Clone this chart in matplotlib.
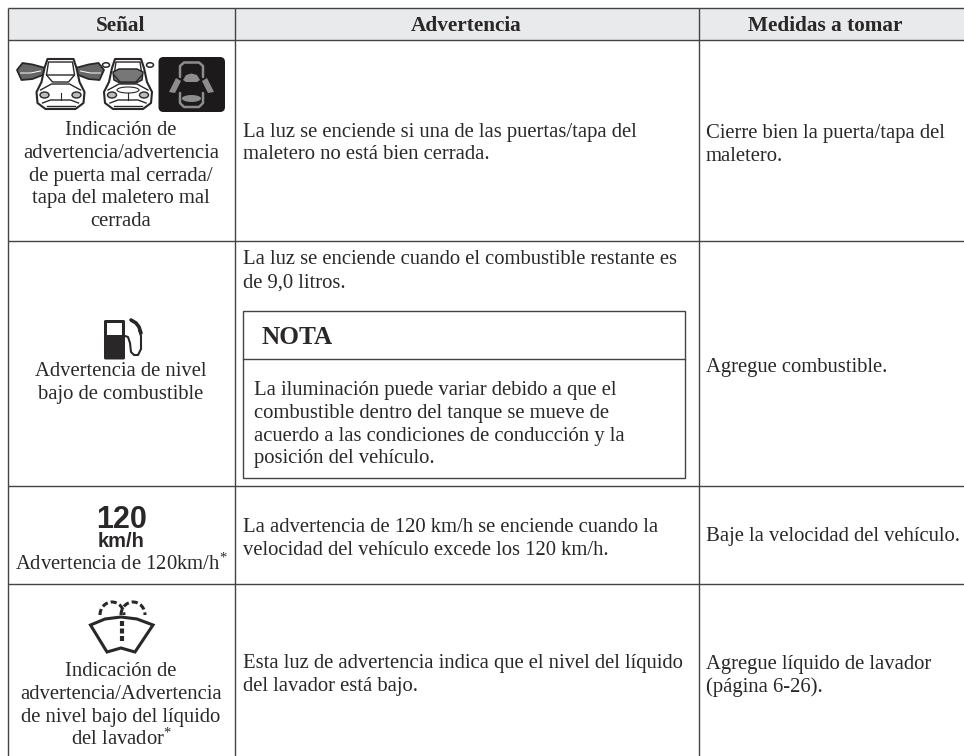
import matplotlib
matplotlib.use("Agg")

import matplotlib.pyplot as plt
from matplotlib.patches import Rectangle, FancyBboxPatch, Arc, Polygon, Ellipse

# Table content
headers = ["Señal", "Advertencia", "Medidas a tomar"]
col_senal = [
    ["Indicación de", "advertencia/advertencia", "de puerta mal cerrada/", "tapa del maletero mal", "cerrada"],
    ["Advertencia de nivel", "bajo de combustible"],
    ["Advertencia de 120km/h$^{*}$"],
    ["Indicación de", "advertencia/Advertencia", "de nivel bajo del líquido", "del lavador$^{*}$"],
]
col_advertencia = [
    ["La luz se enciende si una de las puertas/tapa del", "maletero no está bien cerrada."],
    ["La luz se enciende cuando el combustible restante es", "de 9,0 litros."],
    ["La advertencia de 120 km/h se enciende cuando la", "velocidad del vehículo excede los 120 km/h."],
    ["Esta luz de advertencia indica que el nivel del líquido", "del lavador está bajo."],
]
col_medidas = [
    ["Cierre bien la puerta/tapa del", "maletero."],
    ["Agregue combustible."],
    ["Baje la velocidad del vehículo."],
    ["Agregue líquido de lavador", "(página 6-26)."],
]
nota_title = "NOTA"
nota_lines = [
    "La iluminación puede variar debido a que el",
    "combustible dentro del tanque se mueve de",
    "acuerdo a las condiciones de conducción y la",
    "posición del vehículo.",
]

# Layout in image pixels
col_x = [8, 234.5, 698.5]
row_y = [8, 40, 240.5, 486, 584]
right = 964
bottom = 756
line_h = 22.8
fs = 14.9
ink = "#2a2728"
line_col = "#444444"

plt.rcParams["font.family"] = ["Liberation Serif", "DejaVu Serif"]
plt.rcParams["mathtext.fontset"] = "custom"
plt.rcParams["mathtext.rm"] = "Liberation Serif"
plt.rcParams["mathtext.default"] = "regular"

fig = plt.figure(figsize=(9.64, 7.56), dpi=100)
ax = fig.add_axes([0, 0, 1, 1])
ax.set_xlim(0, 964)
ax.set_ylim(756, 0)
ax.axis("off")

# Header band and grid (table runs off the right and bottom edges)
ax.add_patch(Rectangle((col_x[0], row_y[0]), right - col_x[0], row_y[1] - row_y[0], fc="#e9eaeb", ec="none"))
for x in col_x:
    ax.plot([x, x], [row_y[0], bottom], color=line_col, lw=1.0, solid_capstyle="butt")
for y in row_y:
    ax.plot([col_x[0], right], [y, y], color=line_col, lw=1.0, solid_capstyle="butt")


def put_lines(lines, x, y0, ha="left", step=line_h):
    for i, s in enumerate(lines):
        ax.text(x, y0 + i * step, s, fontsize=fs, color=ink, ha=ha, va="baseline")


# Header text
centers = [121, 466, 825]
for c, h in zip(centers, headers):
    ax.text(c, 31, h, fontsize=fs + 0.4, fontweight="bold", color=ink, ha="center", va="baseline")

# First column captions
caption_y = [135, 376, 570, 676]
for lines, y in zip(col_senal, caption_y):
    put_lines(lines, centers[0], y, ha="center")

# Middle and right columns
adv_y = [137, 264, 532, 668]
adv_step = [22.3, 24, 22.8, 23.5]
for lines, y, st in zip(col_advertencia, adv_y, adv_step):
    put_lines(lines, 243, y, step=st)
med_y = [138, 372, 541, 669]
for lines, y in zip(col_medidas, med_y):
    put_lines(lines, 705.5, y)

# NOTA box
ax.add_patch(Rectangle((243, 311), 442, 167, fc="none", ec=line_col, lw=1.0))
ax.plot([243, 685], [359, 359], color=line_col, lw=1.0)
ax.text(261.5, 344, nota_title, fontsize=18.2, fontweight="bold", color=ink, va="baseline")
put_lines(nota_lines, 254, 395)


# Icons
def car(cx, open_doors):
    if open_doors:
        for sign in (-1, 1):
            ax.add_patch(Polygon([(cx + sign * 15, 68), (cx + sign * 28, 64.5), (cx + sign * 38, 63),
                                  (cx + sign * 43.5, 70), (cx + sign * 39, 80), (cx + sign * 28, 79),
                                  (cx + sign * 15, 74)],
                                 fc="#666666", ec=ink, lw=1.3, joinstyle="round"))
            ax.plot([cx + sign * 20, cx + sign * 30, cx + sign * 40], [71, 73, 73], color="white", lw=0.7)
    else:
        for sign in (-1, 1):
            ax.add_patch(Ellipse((cx + sign * 22, 65), 7, 4.5, fc="white", ec=ink, lw=1.1))
    # body outline seen from the rear
    ax.add_patch(Polygon([(cx - 23, 103), (cx - 24, 92), (cx - 19, 82), (cx - 16, 68), (cx - 13, 59),
                          (cx + 13, 59), (cx + 16, 68), (cx + 19, 82), (cx + 24, 92), (cx + 23, 103),
                          (cx + 15, 109), (cx - 15, 109)], fc="white", ec=ink, lw=1.5, joinstyle="round"))
    ax.add_patch(Polygon([(cx - 12, 62), (cx + 12, 62), (cx + 14, 75), (cx - 14, 75)], fc="white", ec=ink, lw=1.0))
    ax.plot([cx - 20, cx - 9, cx + 9, cx + 20], [90, 84, 84, 90], color=ink, lw=1.0)
    ax.plot([cx - 14, cx - 8, cx + 8, cx + 14], [75, 82, 82, 75], color=ink, lw=1.0)
    ax.plot([cx - 18, cx - 10, cx + 10, cx + 18], [103, 100, 100, 103], color=ink, lw=1.0)
    ax.plot([cx - 14, cx + 14], [106, 106], color=ink, lw=1.0)
    ax.plot([cx, cx], [93, 100], color=ink, lw=0.8)
    for sign in (-1, 1):
        ax.add_patch(Ellipse((cx + sign * 16, 95), 9, 6, fc="#bbbbbb", ec=ink, lw=1.0))
    if not open_doors:
        ax.add_patch(Polygon([(cx - 15, 72), (cx - 9, 69), (cx + 9, 69), (cx + 15, 72), (cx + 14, 80),
                              (cx + 8, 83), (cx - 8, 83), (cx - 14, 80)], fc="#777777", ec=ink, lw=1.1))
        ax.add_patch(Ellipse((cx, 90), 22, 6, fc="white", ec=ink, lw=0.8))


car(60.5, True)
car(128, False)

# Dark door warning lamp
ax.add_patch(FancyBboxPatch((158.5, 57), 66.5, 55, boxstyle="round,pad=0,rounding_size=5", fc="#1c1a1b", ec="none"))
lamp = "#8d8d8d"
ax.plot([180, 180, 184, 199, 203, 203], [77, 66, 62.5, 62.5, 66, 77], color=lamp, lw=1.8, solid_capstyle="round")
ax.add_patch(Polygon([(183, 80), (186, 75), (191.5, 73.5), (197, 75), (200, 80), (197, 82), (186, 82)], fc=lamp, ec="none"))
ax.add_patch(Polygon([(169, 92), (176, 78), (181, 81), (175, 93)], fc=lamp, ec="none"))
ax.add_patch(Polygon([(214, 92), (207, 78), (202, 81), (208, 93)], fc=lamp, ec="none"))
ax.plot([180, 180, 184, 199, 203, 203], [93, 103, 107, 107, 103, 93], color=lamp, lw=1.8, solid_capstyle="round")
ax.add_patch(Ellipse((191.5, 98.5), 19, 7, fc=lamp, ec="none"))

# Fuel pump
ax.add_patch(FancyBboxPatch((104, 320), 21, 39.5, boxstyle="round,pad=0,rounding_size=1.5", fc=ink, ec="none"))
ax.add_patch(Rectangle((107, 323), 15, 11.5, fc="white", ec="none"))
ax.plot([125, 128, 130, 131, 134, 138, 141, 141, 139], [336, 337, 343, 352, 355, 355, 349, 336, 330],
        color=ink, lw=1.5, solid_capstyle="round")
ax.plot([131, 136, 139, 141], [320, 323, 327, 333], color=ink, lw=2.6, solid_capstyle="round")

# 120 km/h
ax.text(122, 528, "120", family=["Liberation Sans"], fontsize=22, fontweight="bold",
        color=ink, ha="center", va="baseline")
ax.text(121.5, 547, "km/h", family=["Liberation Sans"], fontsize=14.5, fontweight="bold", color=ink,
        ha="center", va="baseline")

# Washer
ax.add_patch(Polygon([(90.5, 625), (105, 619), (121, 617), (137, 619), (153, 625), (135, 652), (121, 648), (107, 652)],
                     fc="white", ec=ink, lw=2.2, joinstyle="miter"))
ax.plot([121.5, 121.5], [621, 643], color=ink, lw=3.0, linestyle=(0, (1.2, 0.6)))
ax.add_patch(Arc((112, 615), 24, 26, theta1=180, theta2=360, color=ink, lw=2.2, linestyle=(0, (2, 1))))
ax.add_patch(Arc((133, 615), 24, 26, theta1=180, theta2=360, color=ink, lw=2.2, linestyle=(0, (2, 1))))

fig.savefig("out.png", dpi=100, facecolor="white")
print("table written")
